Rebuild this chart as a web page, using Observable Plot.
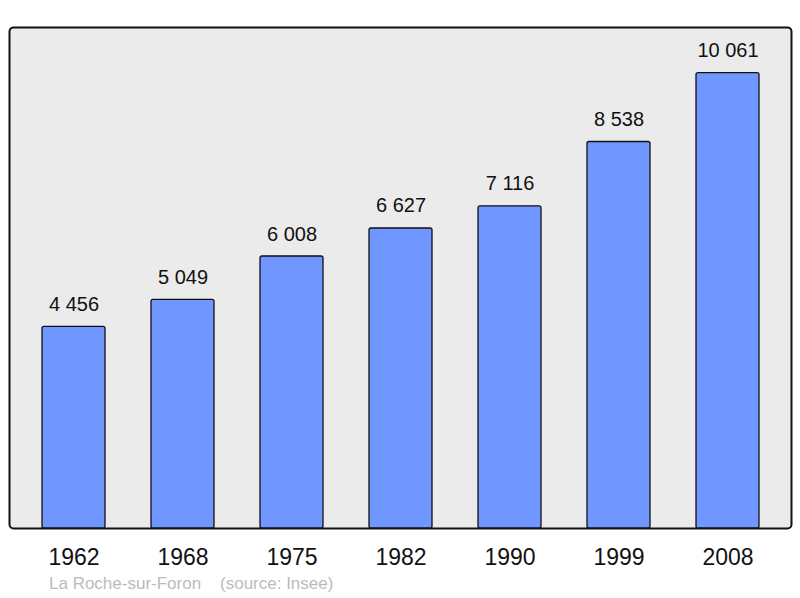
<!DOCTYPE html>
<html>
<head>
<meta charset="utf-8">
<script src="https://cdn.jsdelivr.net/npm/d3@7"></script>
<script src="https://cdn.jsdelivr.net/npm/@observablehq/plot@0.6"></script>
<style>
  html, body { margin: 0; padding: 0; background: #fff; }
  #chart { width: 800px; height: 598px; position: relative; }
  #caption { position: absolute; left: 49px; top: 574px; font: 17px "Liberation Sans", Arial, sans-serif; color: #bbbbbb; white-space: pre; }
</style>
</head>
<body>
<div id="chart"></div>
<script>
const years = ["1962", "1968", "1975", "1982", "1990", "1999", "2008"];
const population = [4456, 5049, 6008, 6627, 7116, 8538, 10061];
const commune = "La Roche-sur-Foron";
const source = "(source: Insee)";

const data = years.map((y, i) => ({year: y, pop: population[i]}));
const fmt = d3.formatLocale({decimal: ",", thousands: "\u00a0", grouping: [3], currency: ["", ""]}).format(",d");

const plot = Plot.plot({
  width: 800,
  height: 598,
  marginTop: 27,
  marginBottom: 70,
  marginLeft: 9,
  marginRight: 9,
  style: {fontFamily: "'Liberation Sans', Arial, sans-serif", background: "#fff"},
  x: {domain: years, paddingInner: 0.42, paddingOuter: 0.21, insetLeft: 9, insetRight: 8, axis: null},
  y: {domain: [0, 11067], axis: null},
  marks: [
    Plot.frame({fill: "#ebebeb", stroke: "#111", strokeWidth: 2, rx: 4}),
    Plot.barY(data, {x: "year", y: "pop", fill: "#7096ff", stroke: "#111", strokeWidth: 1.3, rx: 2}),
    Plot.text(data, {x: "year", y: "pop", text: d => fmt(d.pop), lineAnchor: "bottom", dy: -16, fontSize: 20, fill: "#111"}),
    Plot.axisX({anchor: "bottom", tickSize: 0, tickPadding: 20, fontSize: 23, label: null, color: "#111"})
  ]
});
document.getElementById("chart").appendChild(plot);
const cap = document.createElement("div");
cap.id = "caption";
cap.textContent = commune + "    " + source;
document.getElementById("chart").appendChild(cap);
</script>
</body>
</html>
